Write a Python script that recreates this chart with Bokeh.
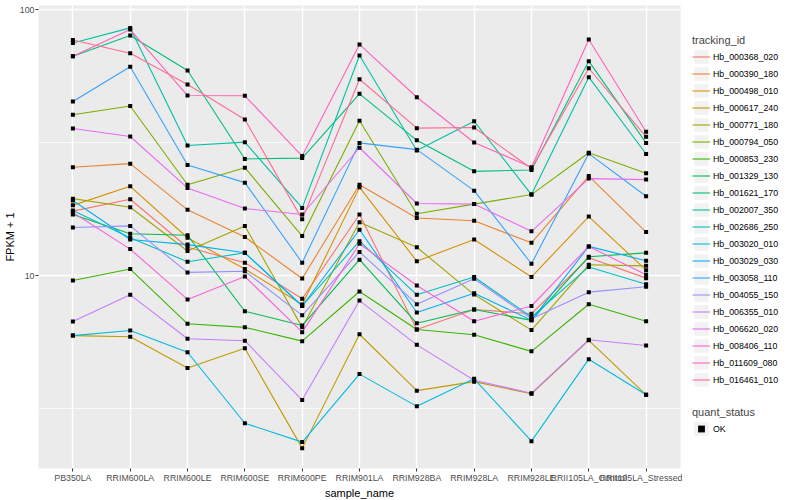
from bokeh.plotting import figure
from bokeh.layouts import row, column
from bokeh.models import FactorRange, Range1d, FixedTicker, Legend, LegendItem
from bokeh.embed import file_html
from bokeh.resources import INLINE

samples = ["PB350LA", "RRIM600LA", "RRIM600LE", "RRIM600SE", "RRIM600PE",
           "RRIM901LA", "RRIM928BA", "RRIM928LA", "RRIM928LE",
           "RRII105LA_Control", "RRII105LA_Stressed"]

tracking_ids = ["Hb_000368_020", "Hb_000390_180", "Hb_000498_010", "Hb_000617_240",
                "Hb_000771_180", "Hb_000794_050", "Hb_000853_230", "Hb_001329_130",
                "Hb_001621_170", "Hb_002007_350", "Hb_002686_250", "Hb_003020_010",
                "Hb_003029_030", "Hb_003058_110", "Hb_004055_150", "Hb_006355_010",
                "Hb_006620_020", "Hb_008406_110", "Hb_011609_080", "Hb_016461_010"]

colors = ["#F8766D", "#EA8331", "#D89000", "#C09B00", "#A3A500", "#7CAE00", "#39B600",
          "#00BB4E", "#00BF7D", "#00C1A3", "#00BFC4", "#00BAE0", "#00B0F6", "#35A2FF",
          "#9590FF", "#C77CFF", "#E76BF3", "#FA62DB", "#FF62BC", "#FF6C91"]

# FPKM + 1 per sample (same order as samples)
hb_000368_020 = [17.5, 19.4, 12.8, 11.2, 8.2, 17.0, 6.28, 7.47, 7.2, 11.7, 9.8]
hb_000390_180 = [25.6, 26.4, 17.7, 14.0, 9.77, 22.0, 16.5, 16.1, 13.3, 23.7, 14.6]
hb_000498_010 = [18.4, 21.7, 13.9, 10.6, 7.8, 21.5, 11.35, 13.7, 9.9, 16.7, 10.5]
hb_000617_240 = [5.96, 5.9, 4.5, 5.34, 2.25, 6.03, 3.7, 4.0, 3.6, 5.72, 3.57]
hb_000771_180 = [19.5, 18.1, 12.4, 15.4, 6.4, 15.9, 12.8, 8.5, 6.25, 11.0, 10.9]
hb_000794_050 = [40.3, 43.5, 22.0, 25.5, 14.1, 38.3, 17.1, 18.6, 20.2, 29.0, 24.3]
hb_000853_230 = [9.6, 10.6, 6.6, 6.4, 5.68, 8.73, 6.28, 6.0, 5.2, 7.82, 6.75]
hb_001329_130 = [17.0, 14.4, 14.2, 7.36, 6.5, 11.5, 6.63, 7.47, 6.8, 11.8, 12.2]
hb_001621_170 = [66.9, 80.0, 59.1, 27.5, 27.7, 48.3, 32.3, 24.7, 25.0, 64.1, 31.6]
hb_002007_350 = [75.0, 85.5, 30.9, 31.8, 18.0, 67.3, 29.6, 38.1, 20.2, 55.8, 28.7]
hb_002686_250 = [17.6, 13.9, 11.3, 12.2, 7.7, 13.5, 8.48, 9.9, 7.0, 10.8, 9.3]
hb_003020_010 = [5.96, 6.23, 5.16, 2.79, 2.37, 4.27, 3.23, 4.1, 2.39, 4.86, 3.57]
hb_003029_030 = [19.2, 13.7, 13.1, 12.2, 7.7, 14.9, 7.28, 8.6, 6.8, 12.9, 11.4]
hb_003058_110 = [45.2, 61.1, 26.1, 22.4, 11.2, 31.6, 29.8, 20.9, 11.1, 28.8, 19.9]
hb_004055_150 = [15.2, 15.4, 10.3, 10.4, 7.1, 12.3, 7.82, 9.75, 6.9, 8.68, 9.1]
hb_006355_010 = [6.73, 8.48, 5.8, 5.7, 3.41, 8.07, 5.5, 4.05, 3.62, 5.75, 5.47]
hb_006620_020 = [35.8, 33.4, 21.4, 17.9, 17.0, 30.3, 18.7, 18.6, 14.7, 23.2, 23.0]
hb_008406_110 = [17.3, 12.6, 8.15, 9.94, 6.14, 13.2, 9.2, 6.75, 7.7, 12.9, 10.1]
hb_011609_080 = [66.9, 84.3, 47.6, 47.5, 28.2, 74.1, 46.9, 31.7, 25.6, 77.3, 34.8]
hb_016461_010 = [77.0, 68.7, 52.4, 38.7, 16.3, 54.8, 35.9, 36.1, 25.3, 60.3, 33.3]

series = [hb_000368_020, hb_000390_180, hb_000498_010, hb_000617_240, hb_000771_180,
          hb_000794_050, hb_000853_230, hb_001329_130, hb_001621_170, hb_002007_350,
          hb_002686_250, hb_003020_010, hb_003029_030, hb_003058_110, hb_004055_150,
          hb_006355_010, hb_006620_020, hb_008406_110, hb_011609_080, hb_016461_010]

quant_status = ["OK"]

FONT = "Liberation Sans"
FW, FH = 642, 463

p = figure(x_range=FactorRange(factors=samples, range_padding=0.2 / 11),
           y_range=Range1d(1.8862, 103.79), y_axis_type="log",
           frame_width=FW, frame_height=FH,
           output_backend="svg", toolbar_location=None,
           min_border_top=5, min_border_left=0, min_border_bottom=0, min_border_right=2,
           background_fill_color="#EBEBEB", border_fill_color="white",
           outline_line_color=None)

# grid
p.xgrid.grid_line_color = "white"
p.xgrid.grid_line_width = 1.4
p.ygrid.ticker = FixedTicker(ticks=[10, 100], minor_ticks=[10 ** 0.5, 10 ** 1.5])
p.ygrid.grid_line_color = "white"
p.ygrid.grid_line_width = 1.4
p.ygrid.minor_grid_line_color = "white"
p.ygrid.minor_grid_line_width = 0.7

# axes
p.yaxis.ticker = FixedTicker(ticks=[10, 100])
p.yaxis.major_label_overrides = {10: "10", 100: "100"}
for ax in (p.xaxis[0], p.yaxis[0]):
    ax.axis_line_color = None
    ax.major_tick_line_color = "#333333"
    ax.major_tick_out = 3
    ax.major_tick_in = 0
    ax.minor_tick_line_color = None
    ax.major_label_text_font = FONT
    ax.major_label_text_font_size = "8.8px"
    ax.major_label_text_color = "#4D4D4D"
    ax.major_label_standoff = 1
    ax.axis_label_text_font = FONT
    ax.axis_label_text_font_size = "11px"
    ax.axis_label_text_font_style = "normal"
    ax.axis_label_text_color = "black"
    ax.axis_label_standoff = 1
p.xaxis.axis_label = "sample_name"
p.yaxis.axis_label = "FPKM + 1"

for vals, c in zip(series, colors):
    p.line(x=samples, y=vals, line_color=c, line_width=1.1)

px, py = [], []
for vals in series:
    px.extend(samples)
    py.extend(vals)
p.scatter(x=px, y=py, marker="square", size=4, fill_color="black", line_color=None)


# ---- legend panels (separate figures to the right) ----
def legend_fig(h, top):
    f = figure(width=110, height=h, x_range=Range1d(0, 1), y_range=Range1d(0, 1),
               output_backend="svg", toolbar_location=None,
               x_axis_location=None, y_axis_location=None,
               min_border_left=10, min_border_top=top, min_border_right=0,
               min_border_bottom=0, outline_line_color=None,
               background_fill_color="white", border_fill_color="white")
    f.grid.visible = False
    return f


def style_legend(lg):
    lg.location = "top_left"
    lg.border_line_color = None
    lg.background_fill_alpha = 0
    lg.padding = 0
    lg.margin = 0
    lg.spacing = 0
    lg.glyph_width = 18
    lg.glyph_height = 17
    lg.label_height = 17
    lg.label_standoff = 3
    lg.label_text_font = FONT
    lg.label_text_font_size = "8.8px"
    lg.label_text_color = "black"
    lg.title_text_font = FONT
    lg.title_text_font_size = "11px"
    lg.title_text_font_style = "normal"
    lg.title_standoff = 2


q1 = legend_fig(400, 34)
bg1 = q1.quad(left=[5], right=[6], top=[6], bottom=[5], fill_color="#F2F2F2", line_color=None)
key_lines = [q1.line(x=[5, 6], y=[5, 5], line_color=c, line_width=1.1) for c in colors]
leg1 = Legend(items=[LegendItem(label=t, renderers=[bg1, r])
                     for t, r in zip(tracking_ids, key_lines)],
              title="tracking_id")
style_legend(leg1)
q1.add_layout(leg1)

q2 = legend_fig(100, 6)
bg2 = q2.quad(left=[5], right=[6], top=[6], bottom=[5], fill_color="#F2F2F2", line_color=None)
key_pt = q2.scatter(x=[5], y=[5], marker="square", size=4, fill_color="black", line_color=None)
leg2 = Legend(items=[LegendItem(label=quant_status[0], renderers=[bg2, key_pt])],
              title="quant_status")
style_legend(leg2)
q2.add_layout(leg2)

open("out.html", "w").write(file_html(row(p, column(q1, q2)), INLINE))
